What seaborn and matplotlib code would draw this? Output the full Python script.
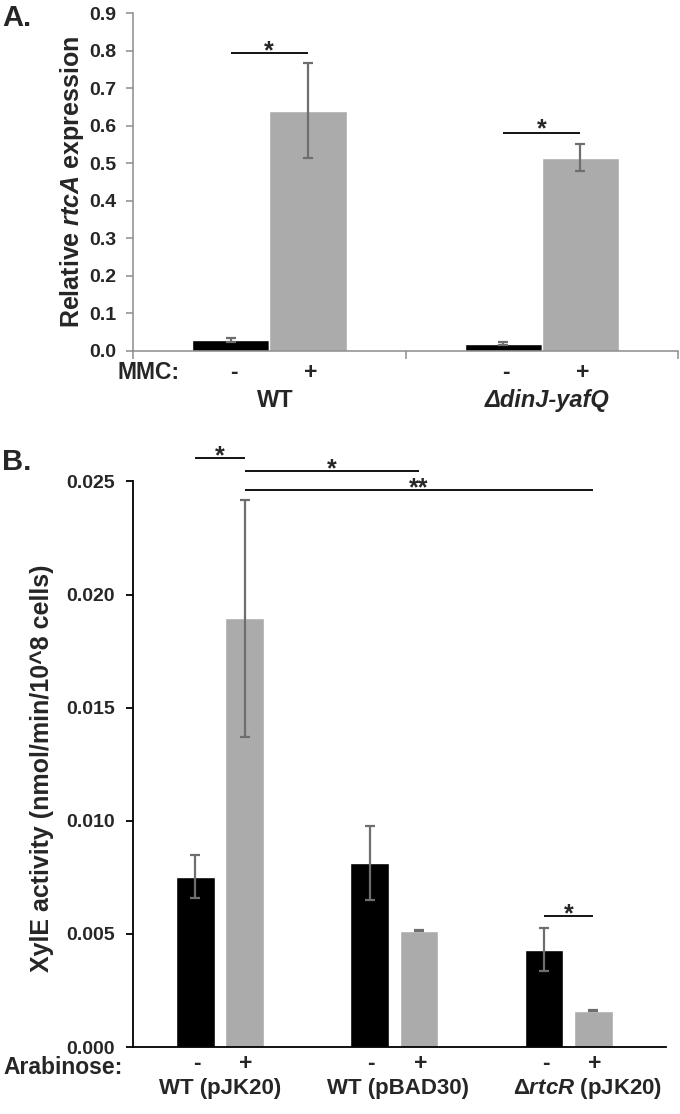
import matplotlib
matplotlib.use('Agg')
import matplotlib.pyplot as plt
import seaborn as sns
import pandas as pd
from matplotlib.ticker import FormatStrFormatter, MultipleLocator, FixedLocator

# ---------------- data ----------------
# Panel A
a_strains = ['WT', 'ΔdinJ-yafQ']
a_mmc = ['-', '+']
a_values_minus = [0.029, 0.019]
a_values_plus = [0.640, 0.515]
a_err_minus = [0.005, 0.0045]
a_err_plus = [0.126, 0.036]
a_sig_y = [0.794, 0.580]
a_sig_text = ['*', '*']

# Panel B
b_strains = ['WT (pJK20)', 'WT (pBAD30)', 'ΔrtcR (pJK20)']
b_strain_labels = ['WT (pJK20)', 'WT (pBAD30)', r'$\mathit{ΔrtcR}$ (pJK20)']
b_arab = ['-', '+']
b_values_minus = [0.00753, 0.00812, 0.00431]
b_values_plus = [0.01895, 0.00515, 0.00160]
b_err_minus = [0.00095, 0.00163, 0.00094]
b_err_plus = [0.00523, 0.00003, 0.00002]
# significance lines: (strain_from, arab_from, strain_to, arab_to, y, text)
b_sig = [
    (0, '-', 0, '+', 0.02605, '*'),
    (0, '+', 1, '+', 0.02548, '*'),
    (0, '+', 2, '+', 0.02461, '**'),
    (2, '-', 2, '+', 0.00578, '*'),
]

BLACK = '#000000'
GREY = '#ababab'
ERR = '#6e6e6e'

sns.set_style('white')
plt.rcParams['font.family'] = ['Liberation Sans', 'DejaVu Sans']
plt.rcParams['font.weight'] = 'bold'
plt.rcParams['axes.labelweight'] = 'bold'
plt.rcParams['mathtext.fontset'] = 'custom'
plt.rcParams['mathtext.it'] = 'Liberation Sans:italic:bold'
plt.rcParams['mathtext.rm'] = 'Liberation Sans:bold'
plt.rcParams['mathtext.bf'] = 'Liberation Sans:bold'

df_a = pd.DataFrame({
    'strain': a_strains * 2,
    'mmc': ['-'] * len(a_strains) + ['+'] * len(a_strains),
    'value': a_values_minus + a_values_plus,
    'err': a_err_minus + a_err_plus,
})
df_b = pd.DataFrame({
    'strain': b_strains * 2,
    'arab': ['-'] * len(b_strains) + ['+'] * len(b_strains),
    'value': b_values_minus + b_values_plus,
    'err': b_err_minus + b_err_plus,
})

fig = plt.figure(figsize=(6.8, 11.14), dpi=100)
axA = fig.add_axes([0.1956, 0.6852, 0.8015, 0.3029])
axB = fig.add_axes([0.1951, 0.0601, 0.785, 0.5077])

TICK_FS = 14
LAB_FS = 18
ROW_FS = 16.5
STAR_FS = 18


def bar_positions(ax, hue_order, n):
    pos = {}
    for h, cont in zip(hue_order, ax.containers):
        for i, bar in enumerate(cont.patches):
            pos[(i, h)] = (bar.get_x() + bar.get_width() / 2, bar.get_height())
    return pos


def draw_errors(ax, pos, df, cat_order, hue_col):
    for _, r in df.iterrows():
        i = cat_order.index(r['strain'])
        x, h = pos[(i, r[hue_col])]
        ax.errorbar(x, h, yerr=r['err'], fmt='none', ecolor=ERR,
                    elinewidth=1.6, capsize=3.5, capthick=1.6, zorder=3)


def draw_sig(ax, x0, x1, y, txt, gap_px):
    ax.plot([x0, x1], [y, y], color='black', lw=1.3, clip_on=False,
            solid_capstyle='butt')
    off = gap_px * 0.72 - 0.56 * STAR_FS
    ax.annotate(txt, xy=((x0 + x1) / 2, y), xytext=(0, off),
                textcoords='offset points', ha='center', va='baseline',
                fontsize=STAR_FS, fontweight='bold', annotation_clip=False)


# ---------------- Panel A ----------------
sns.barplot(data=df_a, x='strain', y='value', hue='mmc', order=a_strains,
            hue_order=a_mmc, palette={'-': BLACK, '+': GREY}, width=0.567,
            errorbar=None, saturation=1, legend=False, ax=axA, zorder=2)
posA = bar_positions(axA, a_mmc, len(a_strains))
draw_errors(axA, posA, df_a, a_strains, 'mmc')
for i, (y, t) in enumerate(zip(a_sig_y, a_sig_text)):
    draw_sig(axA, posA[(i, '-')][0], posA[(i, '+')][0], y, t, 9 if i == 0 else 11)

axA.set_xlim(-0.5, 1.5)
axA.set_ylim(0, 0.9)
axA.yaxis.set_major_locator(MultipleLocator(0.1))
axA.yaxis.set_major_formatter(FormatStrFormatter('%.1f'))
axA.set_xlabel('')
axA.set_ylabel(r'Relative $\mathit{rtcA}$ expression', fontsize=LAB_FS)
axA.yaxis.label.set_va('center')
axA.yaxis.set_label_coords(-0.112, 0.5)
for s in ['top', 'right']:
    axA.spines[s].set_visible(False)
for s in ['left', 'bottom']:
    axA.spines[s].set_color('#8c8c8c')
    axA.spines[s].set_linewidth(1.1)
axA.tick_params(axis='y', which='major', left=True, length=5, width=1.1,
                color='#8c8c8c', labelsize=TICK_FS, pad=7)
axA.set_xticks([])
axA.xaxis.set_minor_locator(FixedLocator([-0.5, 0.5, 1.5]))
axA.tick_params(axis='x', which='minor', bottom=True, length=6, width=1.1,
                color='#8c8c8c', direction='out')
for lab in axA.get_yticklabels():
    lab.set_fontweight('bold')

# row labels A
axA.annotate('MMC:', xy=(0.086, 0), xycoords='axes fraction', xytext=(0, -15.5),
             textcoords='offset points', ha='right', va='center', fontsize=ROW_FS)
for (i, h), (x, _) in posA.items():
    axA.annotate(h, xy=(x, 0), xycoords=('data', 'axes fraction'), xytext=(2, -15.5),
                 textcoords='offset points', ha='center', va='center', fontsize=ROW_FS)
for i, s in enumerate(a_strains):
    axA.annotate(s, xy=(i, 0), xycoords=('data', 'axes fraction'), xytext=(4, -36),
                 textcoords='offset points', ha='center', va='center',
                 fontsize=ROW_FS + 0.5, fontstyle='italic' if i == 1 else 'normal')

# ---------------- Panel B ----------------
sns.barplot(data=df_b, x='strain', y='value', hue='arab', order=b_strains,
            hue_order=b_arab, palette={'-': BLACK, '+': GREY}, width=0.566, gap=0.215,
            errorbar=None, saturation=1, legend=False, ax=axB, zorder=2)
posB = bar_positions(axB, b_arab, len(b_strains))
draw_errors(axB, posB, df_b, b_strains, 'arab')
for (i0, h0, i1, h1, y, t) in b_sig:
    draw_sig(axB, posB[(i0, h0)][0], posB[(i1, h1)][0], y, t, 8.5)

axB.set_xlim(-0.5, 2.56)
axB.set_ylim(0, 0.025)
axB.yaxis.set_major_locator(MultipleLocator(0.005))
axB.yaxis.set_major_formatter(FormatStrFormatter('%.3f'))
axB.set_xlabel('')
axB.set_ylabel('XylE activity (nmol/min/10^8 cells)', fontsize=LAB_FS)
axB.yaxis.label.set_va('center')
axB.yaxis.set_label_coords(-0.169, 0.493)
for s in ['top', 'right']:
    axB.spines[s].set_visible(False)
for s in ['left', 'bottom']:
    axB.spines[s].set_color('black')
    axB.spines[s].set_linewidth(1.3)
axB.tick_params(axis='y', left=True, length=5, width=1.3, color='black',
                labelsize=TICK_FS, pad=8)
axB.set_xticks([])
for lab in axB.get_yticklabels():
    lab.set_fontweight('bold')

axB.annotate('Arabinose:', xy=(-0.018, 0), xycoords='axes fraction', xytext=(0, -14.5),
             textcoords='offset points', ha='right', va='center', fontsize=ROW_FS)
for (i, h), (x, _) in posB.items():
    axB.annotate(h, xy=(x, 0), xycoords=('data', 'axes fraction'), xytext=(1, -11.5),
                 textcoords='offset points', ha='center', va='center', fontsize=ROW_FS)
label_shift = [0.0, 0.02, 0.11]
for i, s in enumerate(b_strain_labels):
    axB.annotate(s, xy=(i + label_shift[i], 0), xycoords=('data', 'axes fraction'),
                 xytext=(0, -29.5), textcoords='offset points', ha='center', va='center',
                 fontsize=ROW_FS - 0.5)

# panel letters
fig.text(2 / 680, 1 - 18 / 1114, 'A.', fontsize=21, fontweight='bold', ha='left', va='center')
fig.text(2 / 680, 1 - 462 / 1114, 'B.', fontsize=21, fontweight='bold', ha='left', va='center')

fig.savefig('out.png', dpi=100)
